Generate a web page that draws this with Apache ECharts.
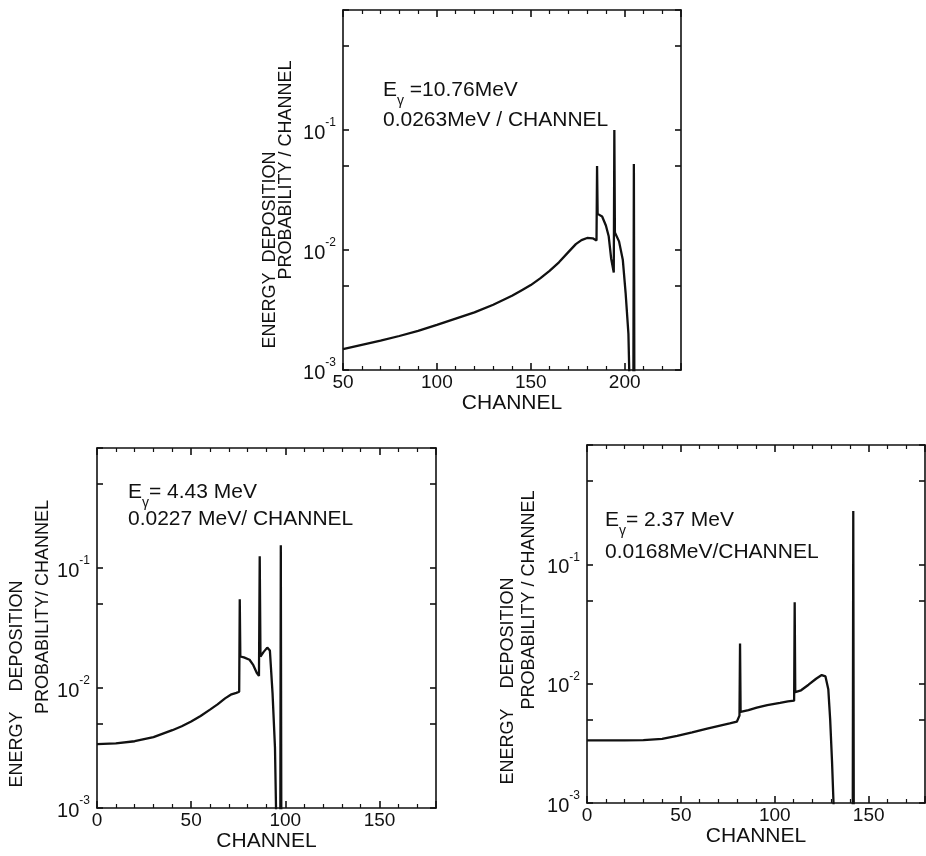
<!DOCTYPE html>
<html>
<head>
<meta charset="utf-8">
<script src="https://cdn.jsdelivr.net/npm/echarts@6.0.0/dist/echarts.min.js"></script>
<style>
  html, body { margin: 0; padding: 0; background: #fff; }
  #chart { width: 926px; height: 856px; }
</style>
</head>
<body>
<div id="chart"></div>
<script>
// values (channel, probability per channel)
const chTop = [50, 60, 70, 80, 90, 100, 110, 120, 130, 140, 145, 150, 155, 160, 165, 170, 174, 177, 180, 183, 185,
  185.3, 185.6, 188, 190, 191.5, 192.8, 194.2, 194.5, 194.8, 197, 199, 200.5, 202, 203, 204.6, 204.9, 205.2]
const pTop = [1.49e-3, 1.62e-3, 1.76e-3, 1.92e-3, 2.12e-3, 2.38e-3, 2.68e-3, 3.02e-3, 3.5e-3, 4.15e-3, 4.6e-3, 5.1e-3,
  5.8e-3, 6.7e-3, 7.9e-3, 9.6e-3, 1.12e-2, 1.21e-2, 1.26e-2, 1.25e-2, 1.2e-2,
  5.0e-2, 2.0e-2, 1.9e-2, 1.6e-2, 1.3e-2, 8.5e-3, 6.5e-3, 1.0e-1, 1.4e-2, 1.18e-2, 8.3e-3, 4.4e-3, 2.0e-3, 4e-4, 4e-4, 5.2e-2, 4e-4]

const chLeft = [0, 10, 20, 30, 40, 45, 50, 55, 60, 64, 68, 71, 74, 75.5, 75.8, 76.1, 78, 81, 83, 84.8, 86.0,
  86.4, 86.8, 88.5, 90.4, 91.8, 93.2, 94.5, 95.5, 97.3, 97.6, 97.9]
const pLeft = [3.4e-3, 3.45e-3, 3.6e-3, 3.9e-3, 4.45e-3, 4.8e-3, 5.25e-3, 5.85e-3, 6.6e-3, 7.3e-3, 8.2e-3, 8.8e-3, 9.1e-3, 9.3e-3,
  5.5e-2, 1.83e-2, 1.8e-2, 1.72e-2, 1.55e-2, 1.34e-2, 1.26e-2,
  1.25e-1, 1.83e-2, 2.0e-2, 2.17e-2, 2.05e-2, 9.1e-3, 3.2e-3, 4e-4, 4e-4, 1.55e-1, 4e-4]

const chRight = [0, 20, 30, 40, 48, 56, 64, 72, 76, 79.8, 81.2, 81.5, 81.8, 86, 90.4, 96, 102.8, 107, 110.3,
  110.6, 110.9, 114, 118, 122, 125, 127, 128.5, 129.5, 130.5, 131.5, 132.5, 141.5, 141.8, 142.1]
const pRight = [3.35e-3, 3.35e-3, 3.37e-3, 3.45e-3, 3.65e-3, 3.9e-3, 4.2e-3, 4.5e-3, 4.65e-3, 4.8e-3, 5.4e-3, 2.17e-2,
  5.8e-3, 6.0e-3, 6.3e-3, 6.6e-3, 6.9e-3, 7.1e-3, 7.2e-3,
  4.8e-2, 8.5e-3, 8.8e-3, 9.8e-3, 1.1e-2, 1.18e-2, 1.15e-2, 9e-3, 5e-3, 2.2e-3, 8e-4, 4e-4, 4e-4, 2.8e-1, 4e-4]

// y ticks sit at 1x and 5x each decade
const yTickVals = [0.001, 0.005, 0.01, 0.05, 0.1, 0.5, 1]
const xRanges = [[50, 230], [0, 180], [0, 180]]

const INK = '#111'
const FONT = "'Liberation Sans', 'DejaVu Sans', sans-serif"

const grids = [
  { left: 343, top: 10, width: 338, height: 360 },
  { left: 97, top: 448, width: 339, height: 360 },
  { left: 587, top: 445, width: 338, height: 358 },
]

const line = { color: INK, width: 1.6 }
const tickExp = yTickVals.map(v => Math.log10(v))

function xAxes(gi) {
  const [min, max] = xRanges[gi]
  const base = {
    type: 'value', gridIndex: gi, min, max, interval: 50,
    axisLine: { show: true, onZero: false, lineStyle: line },
    axisTick: { inside: true, length: 7, lineStyle: line },
    minorTick: { show: true, splitNumber: 5, length: 4, lineStyle: { color: INK, width: 1.2 } },
    splitLine: { show: false },
  }
  return [
    { ...base, position: 'bottom',
      name: 'CHANNEL', nameLocation: 'middle', nameGap: 22,
      nameTextStyle: { color: INK, fontFamily: FONT, fontSize: 21 },
      axisLabel: { color: INK, fontFamily: FONT, fontSize: 19, margin: 3, showMaxLabel: false } },
    { ...base, position: 'top', axisLabel: { show: false } },
  ]
}

function yAxes(gi) {
  const ticks = {
    type: 'value', gridIndex: gi, min: -3, max: 0, interval: 1,
    axisTick: { inside: true, length: 6, customValues: tickExp, lineStyle: line },
    axisLabel: { show: false }, splitLine: { show: false },
  }
  return [
    { type: 'log', gridIndex: gi, position: 'left', logBase: 10, min: 0.001, max: 1,
      axisLine: { show: true, onZero: false, lineStyle: line },
      axisTick: { show: false }, splitLine: { show: false },
      axisLabel: {
        margin: 7,
        formatter: v => {
          const e = Math.round(Math.log10(v))
          return e === 0 ? '' : '{b|10}{s|' + e + '}'
        },
        rich: {
          b: { fontFamily: FONT, fontSize: 20, color: INK, lineHeight: 26, verticalAlign: 'bottom' },
          s: { fontFamily: FONT, fontSize: 12, color: INK, verticalAlign: 'top' },
        },
      } },
    { ...ticks, position: 'left', axisLine: { show: false } },
    { ...ticks, position: 'right', axisLine: { show: true, onZero: false, lineStyle: line } },
  ]
}

const sets = [[chTop, pTop], [chLeft, pLeft], [chRight, pRight]]

const noteRich = {
  n: { fontFamily: FONT, fontSize: 21, color: INK, lineHeight: 28, verticalAlign: 'top' },
  g: { fontFamily: FONT, fontSize: 14, color: INK, verticalAlign: 'bottom' },
}
function note(x, y, text) {
  return { type: 'text', x, y, style: { text, rich: noteRich, fill: INK, fontFamily: FONT, fontSize: 21 } }
}
function yTitle(x, y, text) {
  return { type: 'text', x, y, rotation: Math.PI / 2,
    style: { text, fill: INK, fontFamily: FONT, fontSize: 18, align: 'center', verticalAlign: 'middle' } }
}

const chart = echarts.init(document.getElementById('chart'), null, { renderer: 'canvas' })

chart.setOption({
  animation: false,
  backgroundColor: '#fff',
  grid: grids,
  xAxis: [0, 1, 2].flatMap(xAxes),
  yAxis: [0, 1, 2].flatMap(yAxes),
  series: sets.map(([ch, p], gi) => ({
    type: 'line',
    xAxisIndex: gi * 2,
    yAxisIndex: gi * 3,
    data: ch.map((c, i) => [c, p[i]]),
    showSymbol: false,
    clip: true,
    lineStyle: { color: INK, width: 2.3 },
  })),
  graphic: [
    note(383, 80, '{n|E}{g|γ}{n| =10.76MeV}'),
    note(383, 110, '{n|0.0263MeV / CHANNEL}'),
    note(128, 482, '{n|E}{g|γ}{n|= 4.43 MeV}'),
    note(128, 509, '{n|0.0227 MeV/ CHANNEL}'),
    note(605, 510, '{n|E}{g|γ}{n|= 2.37 MeV}'),
    note(605, 542, '{n|0.0168MeV/CHANNEL}'),
    yTitle(270, 250, 'ENERGY  DEPOSITION'),
    yTitle(286, 170, 'PROBABILITY / CHANNEL'),
    yTitle(17, 684, 'ENERGY    DEPOSITION'),
    yTitle(43, 607, 'PROBABILITY/ CHANNEL'),
    yTitle(508, 681, 'ENERGY    DEPOSITION'),
    yTitle(529, 600, 'PROBABILITY / CHANNEL'),
  ],
})
</script>
</body>
</html>
